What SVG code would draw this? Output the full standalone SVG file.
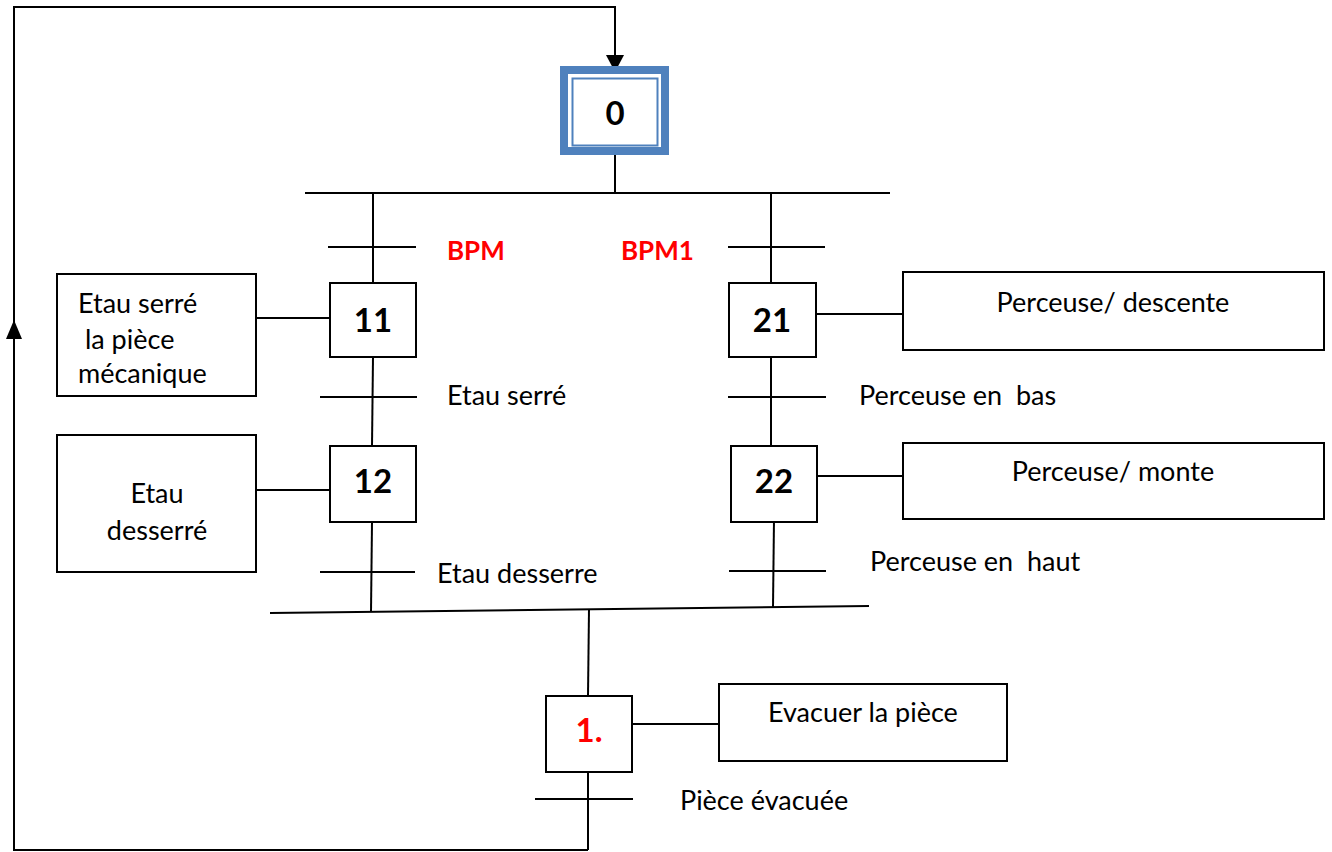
<svg xmlns="http://www.w3.org/2000/svg" width="1332" height="852" viewBox="0 0 1332 852">
  <style>
    .ln { stroke: #000; stroke-width: 2; fill: none; }
    .box { stroke: #000; stroke-width: 2; fill: #fff; }
    .txt { font-family: Lato, "Liberation Sans", sans-serif; font-size: 27px; fill: #000; white-space: pre; }
    .num { font-family: Lato, "Liberation Sans", sans-serif; font-size: 33px; font-weight: bold; fill: #000; text-anchor: middle; }
    .red { font-family: Lato, "Liberation Sans", sans-serif; font-size: 26px; font-weight: bold; fill: #ff0000; }
    .mid { text-anchor: middle; }
  </style>
  <rect width="1332" height="852" fill="#fff"/>

  <!-- links, transitions and loop-back -->
  <g id="connectors">
    <!-- loop from the last step back to the initial step -->
    <polyline class="ln" points="588,850 14,850 14,7 615,7 615,58"/>
    <polygon points="606,55 624,55 615,72" fill="#000"/>
    <polygon points="6,339 22,339 14,320" fill="#000"/>

    <!-- step 0 to divergence bar -->
    <line class="ln" x1="615" y1="155" x2="615" y2="193"/>
    <line class="ln" x1="305" y1="193" x2="890" y2="193"/>

    <!-- left branch -->
    <line class="ln" x1="373" y1="193" x2="373" y2="283"/>
    <line class="ln" x1="328" y1="247" x2="416" y2="247"/>
    <line class="ln" x1="373" y1="357" x2="372" y2="446"/>
    <line class="ln" x1="320" y1="397" x2="417" y2="397"/>
    <line class="ln" x1="372" y1="522" x2="371" y2="612"/>
    <line class="ln" x1="320" y1="572" x2="415" y2="572"/>

    <!-- right branch -->
    <line class="ln" x1="771" y1="193" x2="771" y2="283"/>
    <line class="ln" x1="728" y1="247" x2="825" y2="247"/>
    <line class="ln" x1="771" y1="357" x2="771" y2="446"/>
    <line class="ln" x1="728" y1="397" x2="826" y2="397"/>
    <line class="ln" x1="774" y1="519" x2="773" y2="607"/>
    <line class="ln" x1="729" y1="571" x2="826" y2="571"/>

    <!-- convergence bar -->
    <line class="ln" x1="270" y1="613" x2="869" y2="606"/>
    <line class="ln" x1="589" y1="609" x2="588" y2="696"/>
    <line class="ln" x1="588" y1="772" x2="588" y2="850"/>
    <line class="ln" x1="535" y1="799" x2="633" y2="799"/>

    <!-- action links -->
    <line class="ln" x1="256" y1="318" x2="330" y2="318"/>
    <line class="ln" x1="256" y1="490" x2="330" y2="490"/>
    <line class="ln" x1="816" y1="314" x2="903" y2="314"/>
    <line class="ln" x1="817" y1="476" x2="905" y2="476"/>
    <line class="ln" x1="633" y1="724" x2="723" y2="724"/>
  </g>

  <!-- initial step -->
  <g id="step0">
    <rect x="564" y="70" width="101" height="81" fill="#fff" stroke="#4f81bd" stroke-width="8"/>
    <rect x="572.5" y="78.5" width="85" height="67" fill="none" stroke="#4f81bd" stroke-width="2"/>
    <text class="num" x="615" y="125">0</text>
  </g>

  <!-- receptivities of the divergence -->
  <g id="cond-bpm"><text class="red" x="447" y="260">BPM</text></g>
  <g id="cond-bpm1"><text class="red" x="621" y="260">BPM1</text></g>

  <g id="step11">
    <rect class="box" x="330" y="283" width="86" height="74"/>
    <text class="num" x="373" y="332">11</text>
  </g>
  <g id="action11">
    <rect class="box" x="57" y="274" width="199" height="122"/>
    <text class="txt" x="78" y="313">Etau serré</text>
    <text class="txt" x="78" y="349"> la pièce</text>
    <text class="txt" x="78" y="383">mécanique</text>
  </g>
  <g id="cond-11"><text class="txt" x="447" y="405">Etau serré</text></g>

  <g id="step12">
    <rect class="box" x="330" y="446" width="86" height="76"/>
    <text class="num" x="373" y="493">12</text>
  </g>
  <g id="action12">
    <rect class="box" x="57" y="435" width="199" height="137"/>
    <text class="txt mid" x="157" y="503">Etau</text>
    <text class="txt mid" x="157" y="540">desserré</text>
  </g>
  <g id="cond-12"><text class="txt" x="437" y="583">Etau desserre</text></g>

  <g id="step21">
    <rect class="box" x="729" y="283" width="87" height="74"/>
    <text class="num" x="772" y="332">21</text>
  </g>
  <g id="action21">
    <rect class="box" x="903" y="272" width="421" height="78"/>
    <text class="txt mid" x="1113" y="312">Perceuse/ descente</text>
  </g>
  <g id="cond-21"><text class="txt" x="859" y="405">Perceuse en  bas</text></g>

  <g id="step22">
    <rect class="box" x="731" y="446" width="86" height="76"/>
    <text class="num" x="774" y="493">22</text>
  </g>
  <g id="action22">
    <rect class="box" x="903" y="443" width="421" height="76"/>
    <text class="txt mid" x="1113" y="481">Perceuse/ monte</text>
  </g>
  <g id="cond-22"><text class="txt" x="870" y="571">Perceuse en  haut</text></g>

  <g id="step1">
    <rect class="box" x="546" y="696" width="86" height="76"/>
    <text class="num" x="589" y="742" style="fill:#ff0000">1.</text>
  </g>
  <g id="action1">
    <rect class="box" x="719" y="684" width="288" height="77"/>
    <text class="txt" x="768" y="722">Evacuer la pièce</text>
  </g>
  <g id="cond-1"><text class="txt" x="680" y="810">Pièce évacuée</text></g>
</svg>
